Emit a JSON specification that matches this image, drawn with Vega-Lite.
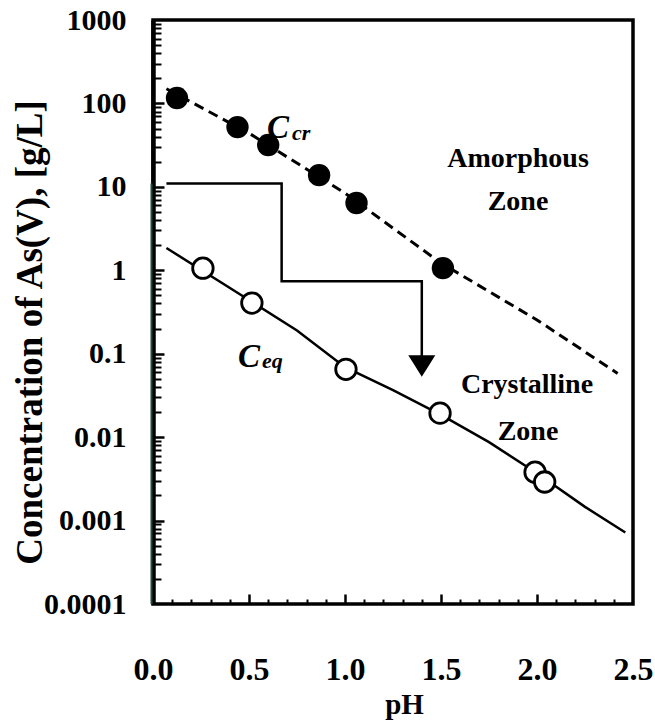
{
  "$schema": "https://vega.github.io/schema/vega-lite/v6.json",
  "width": 480,
  "height": 584,
  "autosize": {"type": "none"},
  "padding": {"left": 153, "top": 20, "right": 22, "bottom": 116},
  "background": "white",
  "config": {
    "view": {"stroke": "black", "strokeWidth": 3.5},
    "font": "Liberation Serif",
    "axis": {"grid": false, "labelColor": "black", "titleColor": "black", "tickColor": "black", "domainColor": "black"}
  },
  "datasets": {
    "cr_line": [
      {"pH": 0.07, "c": 150}, {"pH": 0.5, "c": 44}, {"pH": 1.0, "c": 8.4},
      {"pH": 1.5, "c": 1.22}, {"pH": 2.0, "c": 0.254}, {"pH": 2.42, "c": 0.058}
    ],
    "eq_line": [
      {"pH": 0.07, "c": 1.85}, {"pH": 0.5, "c": 0.44}, {"pH": 0.75, "c": 0.19},
      {"pH": 1.0, "c": 0.069}, {"pH": 1.25, "c": 0.0367}, {"pH": 1.5, "c": 0.0185},
      {"pH": 1.75, "c": 0.0087}, {"pH": 2.0, "c": 0.0037}, {"pH": 2.25, "c": 0.00146},
      {"pH": 2.46, "c": 0.00072}
    ],
    "cr_pts": [
      {"pH": 0.125, "c": 116}, {"pH": 0.44, "c": 52}, {"pH": 0.6, "c": 31.7},
      {"pH": 0.865, "c": 13.8}, {"pH": 1.06, "c": 6.4}, {"pH": 1.51, "c": 1.06}
    ],
    "eq_pts": [
      {"pH": 0.26, "c": 1.06}, {"pH": 0.515, "c": 0.405}, {"pH": 1.005, "c": 0.065},
      {"pH": 1.495, "c": 0.0194}, {"pH": 1.99, "c": 0.0038}, {"pH": 2.04, "c": 0.0029}
    ],
    "path": [
      {"step": 1, "pH": 0.07, "c": 11}, {"step": 2, "pH": 0.67, "c": 11},
      {"step": 3, "pH": 0.67, "c": 0.74}, {"step": 4, "pH": 1.4, "c": 0.74},
      {"step": 5, "pH": 1.4, "c": 0.09}
    ],
    "arrow": [{"pH": 1.4, "c": 0.0713}],
    "edge": [{"pH": 0, "c": 0.0001, "c2": 11}],
    "zones": [
      {"label": "Amorphous", "pH": 1.901, "c": 17.3},
      {"label": "Zone", "pH": 1.901, "c": 5.29},
      {"label": "Crystalline", "pH": 1.948, "c": 0.0338},
      {"label": "Zone", "pH": 1.953, "c": 0.00925}
    ],
    "bigC": [
      {"label": "C", "pH": 0.594, "c": 38.5},
      {"label": "C", "pH": 0.443, "c": 0.0693}
    ],
    "subs": [
      {"label": "cr", "pH": 0.724, "c": 36.5},
      {"label": "eq", "pH": 0.568, "c": 0.0675}
    ]
  },
  "layer": [
    {
      "data": {"name": "eq_line"},
      "mark": {"type": "line", "color": "black", "strokeWidth": 2.5},
      "encoding": {
        "x": {"field": "pH", "type": "quantitative",
          "scale": {"domain": [0, 2.5], "nice": false, "zero": false},
          "axis": {"orient": "top", "offset": -584, "values": [0.1,0.2,0.3,0.4,0.6,0.7,0.8,0.9,1.1,1.2,1.3,1.4,1.6,1.7,1.8,1.9,2.1,2.2,2.3,2.4],
            "labels": false, "domain": false, "title": null, "ticks": true, "tickSize": 5, "tickWidth": 2}},
        "y": {"field": "c", "type": "quantitative",
          "scale": {"type": "log", "domain": [0.0001, 1000], "nice": false},
          "axis": {"orient": "right", "offset": -480, "values": [0.0002,0.0003,0.0004,0.0005,0.0006,0.0007,0.0008,0.0009,0.002,0.003,0.004,0.005,0.006,0.007,0.008,0.009,0.02,0.03,0.04,0.05,0.06,0.07,0.08,0.09,0.2,0.3,0.4,0.5,0.6,0.7,0.8,0.9,2,3,4,5,6,7,8,9,20,30,40,50,60,70,80,90,200,300,400,500,600,700,800,900],
            "labels": false, "domain": false, "title": null, "ticks": true, "tickSize": 8, "tickWidth": 2}}
      }
    },
    {
      "data": {"name": "cr_line"},
      "mark": {"type": "line", "color": "black", "strokeWidth": 3, "strokeDash": [10, 6]},
      "encoding": {
        "x": {"field": "pH", "type": "quantitative",
          "axis": {"orient": "bottom", "values": [0, 0.5, 1, 1.5, 2, 2.5], "format": ".1f",
            "title": "pH", "ticks": false, "domain": false,
            "labelFont": "Liberation Serif", "labelFontWeight": "bold", "labelFontSize": 32,
            "labelFlush": false, "labelBaseline": "alphabetic", "labelPadding": 75,
            "titleFont": "Liberation Serif", "titleFontWeight": "bold", "titleFontSize": 29,
            "titleX": 251, "titleY": 109, "titleBaseline": "alphabetic", "titleAlign": "center"}},
        "y": {"field": "c", "type": "quantitative",
          "axis": {"orient": "left", "values": [0.0001, 0.001, 0.01, 0.1, 1, 10, 100, 1000], "format": "~g",
            "title": "Concentration of As(V), [g/L]", "ticks": false,
            "domainWidth": 4.5, "labelOverlap": false,
            "labelFont": "Liberation Serif", "labelFontWeight": "bold", "labelFontSize": 30,
            "labelPadding": 27,
            "titleFont": "Liberation Serif", "titleFontWeight": "bold", "titleFontSize": 37,
            "titleX": -123, "titleY": 312, "titleAngle": -90, "titleBaseline": "middle", "titleAlign": "center"}}
      }
    },
    {
      "data": {"name": "path"},
      "mark": {"type": "line", "color": "black", "strokeWidth": 2.5},
      "encoding": {
        "x": {"field": "pH", "type": "quantitative",
          "axis": {"orient": "top", "offset": -584, "values": [0.5, 1, 1.5, 2],
            "labels": false, "domain": false, "title": null, "ticks": true, "tickSize": 10, "tickWidth": 2.5}},
        "y": {"field": "c", "type": "quantitative",
          "axis": {"orient": "right", "offset": -480, "values": [0.001, 0.01, 0.1, 1, 10, 100],
            "labels": false, "domain": false, "title": null, "ticks": true, "tickSize": 11, "tickWidth": 2.5}},
        "order": {"field": "step"}
      }
    },
    {
      "data": {"name": "edge"},
      "mark": {"type": "rule", "color": "#1f4d3a", "strokeWidth": 2, "xOffset": -1.5},
      "encoding": {
        "x": {"field": "pH", "type": "quantitative", "axis": null},
        "y": {"field": "c", "type": "quantitative", "axis": null},
        "y2": {"field": "c2"}
      }
    },
    {
      "data": {"name": "arrow"},
      "mark": {"type": "point", "shape": "M-1,-0.8L1,-0.8L0,0.8Z", "size": 729, "filled": true, "color": "black", "opacity": 1},
      "encoding": {
        "x": {"field": "pH", "type": "quantitative", "axis": null},
        "y": {"field": "c", "type": "quantitative", "axis": null}
      }
    },
    {
      "data": {"name": "cr_pts"},
      "mark": {"type": "point", "shape": "circle", "filled": true, "color": "black", "size": 500, "opacity": 1},
      "encoding": {
        "x": {"field": "pH", "type": "quantitative", "axis": null},
        "y": {"field": "c", "type": "quantitative", "axis": null}
      }
    },
    {
      "data": {"name": "eq_pts"},
      "mark": {"type": "point", "shape": "circle", "filled": false, "fill": "white", "fillOpacity": 1, "stroke": "black", "strokeWidth": 2.8, "size": 420, "opacity": 1},
      "encoding": {
        "x": {"field": "pH", "type": "quantitative", "axis": null},
        "y": {"field": "c", "type": "quantitative", "axis": null}
      }
    },
    {
      "data": {"name": "zones"},
      "mark": {"type": "text", "font": "Liberation Serif", "fontWeight": "bold", "fontSize": 28, "align": "center", "baseline": "alphabetic", "color": "black"},
      "encoding": {
        "x": {"field": "pH", "type": "quantitative", "axis": null},
        "y": {"field": "c", "type": "quantitative", "axis": null},
        "text": {"field": "label"}
      }
    },
    {
      "data": {"name": "bigC"},
      "mark": {"type": "text", "font": "Liberation Serif", "fontWeight": "bold", "fontStyle": "italic", "fontSize": 33, "align": "left", "baseline": "alphabetic", "color": "black"},
      "encoding": {
        "x": {"field": "pH", "type": "quantitative", "axis": null},
        "y": {"field": "c", "type": "quantitative", "axis": null},
        "text": {"field": "label"}
      }
    },
    {
      "data": {"name": "subs"},
      "mark": {"type": "text", "font": "Liberation Serif", "fontWeight": "bold", "fontStyle": "italic", "fontSize": 22, "align": "left", "baseline": "alphabetic", "color": "black"},
      "encoding": {
        "x": {"field": "pH", "type": "quantitative", "axis": null},
        "y": {"field": "c", "type": "quantitative", "axis": null},
        "text": {"field": "label"}
      }
    }
  ],
  "resolve": {"axis": {"x": "independent", "y": "independent"}}
}
